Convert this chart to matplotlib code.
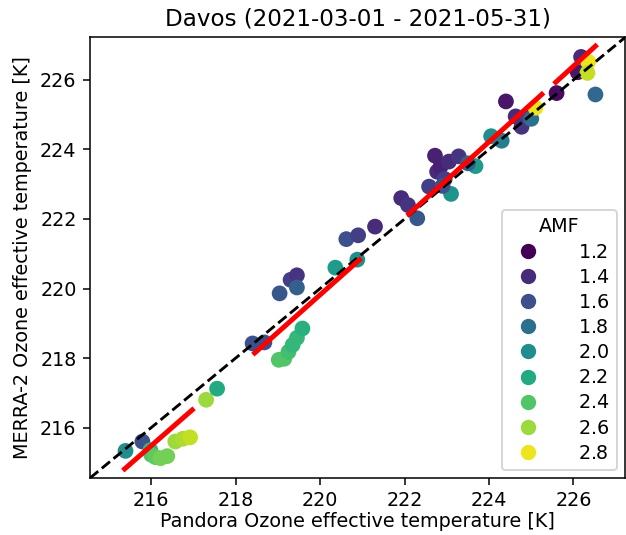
import matplotlib
matplotlib.use('Agg')
import matplotlib.pyplot as plt
import numpy as np
from matplotlib.lines import Line2D

# --- data ---
pandora = [215.39, 215.79, 215.98, 216.00, 216.10, 216.22, 216.38, 216.57, 216.75, 216.92,
           217.30, 217.56,
           218.40, 218.68, 219.02, 219.15, 219.25, 219.35, 219.45, 219.58, 219.04, 219.30,
           219.45, 219.45, 220.36, 220.88, 220.62, 220.90, 221.30,
           221.92, 222.08, 222.30, 222.58, 222.72, 222.77, 222.85, 223.05, 223.28, 222.95,
           223.10, 223.68, 222.90, 223.50,
           224.05, 224.30, 224.40, 224.63, 224.77, 224.90, 225.00, 225.10, 225.60, 226.52,
           226.10, 226.18, 226.35, 226.33]
merra = [215.33, 215.60, 215.35, 215.22, 215.15, 215.12, 215.18, 215.60, 215.68, 215.72,
         216.80, 217.12,
         218.42, 218.45, 217.95, 217.98, 218.18, 218.38, 218.58, 218.85, 219.86, 220.25,
         220.38, 220.03, 220.60, 220.83, 221.42, 221.53, 221.78,
         222.60, 222.40, 222.02, 222.93, 223.82, 223.36, 223.50, 223.65, 223.80, 223.15,
         222.72, 223.52, 222.95, 223.60,
         224.38, 224.25, 225.38, 224.95, 224.65, 224.95, 224.88, 225.20, 225.62, 225.58,
         226.22, 226.66, 226.52, 226.20]
amf = [2.0, 1.6, 2.3, 2.4, 2.45, 2.5, 2.5, 2.6, 2.65, 2.7,
       2.6, 2.2,
       1.6, 1.6, 2.4, 2.4, 2.35, 2.3, 2.3, 2.25, 1.65, 1.5,
       1.45, 1.7, 2.1, 2.0, 1.6, 1.5, 1.4,
       1.4, 1.45, 1.65, 1.5, 1.35, 1.4, 1.35, 1.4, 1.45, 1.5,
       2.05, 2.1, 1.6, 1.7,
       2.0, 1.9, 1.3, 1.4, 1.45, 1.5, 1.8, 2.8, 1.25, 1.75,
       1.3, 1.4, 2.8, 2.7]

# piecewise fits (red lines): x range, slope, intercept
fit_x0 = [215.37, 218.45, 222.10, 225.58]
fit_x1 = [216.97, 220.93, 225.25, 226.52]
fit_slope = [1.06, 1.08, 1.092, 1.106]
fit_icpt = [-13.48, -17.78, -20.39, -23.56]

legend_levels = [1.2, 1.4, 1.6, 1.8, 2.0, 2.2, 2.4, 2.6, 2.8]
lims = [214.55, 227.22]

DPI = 138
fig = plt.figure(figsize=(626 / DPI, 535 / DPI), dpi=DPI)
ax = fig.add_axes([0.1438, 0.1065, 0.8546, 0.8235])

cmap = plt.get_cmap('viridis')
norm = plt.Normalize(1.2, 2.85)
ax.scatter(pandora, merra, c=amf, cmap=cmap, norm=norm, s=52, zorder=2)

ax.plot(lims, lims, '--', color='black', lw=1.5, zorder=3)
for x0, x1, m, b in zip(fit_x0, fit_x1, fit_slope, fit_icpt):
    xs = np.array([x0, x1])
    ax.plot(xs, m * xs + b, color='red', lw=2.6, zorder=4)

ax.set_xlim(lims); ax.set_ylim(lims)
ax.set_xticks([216, 218, 220, 222, 224, 226])
ax.set_yticks([216, 218, 220, 222, 224, 226])
ax.set_xlabel('Pandora Ozone effective temperature [K]', labelpad=1)
ax.set_ylabel('MERRA-2 Ozone effective temperature [K]')
ax.set_title('Davos (2021-03-01 - 2021-05-31)')

handles = [Line2D([], [], marker='o', ls='', markersize=7, color=cmap(norm(v))) for v in legend_levels]
labels = [f'$\\mathdefault{{{v:.1f}}}$' for v in legend_levels]
ax.legend(handles, labels, title='AMF', loc='lower right', labelspacing=0.32,
          handletextpad=1.6, borderaxespad=0.4)

plt.savefig('out.png', dpi=DPI)
plt.close()
print('out.png saved')
